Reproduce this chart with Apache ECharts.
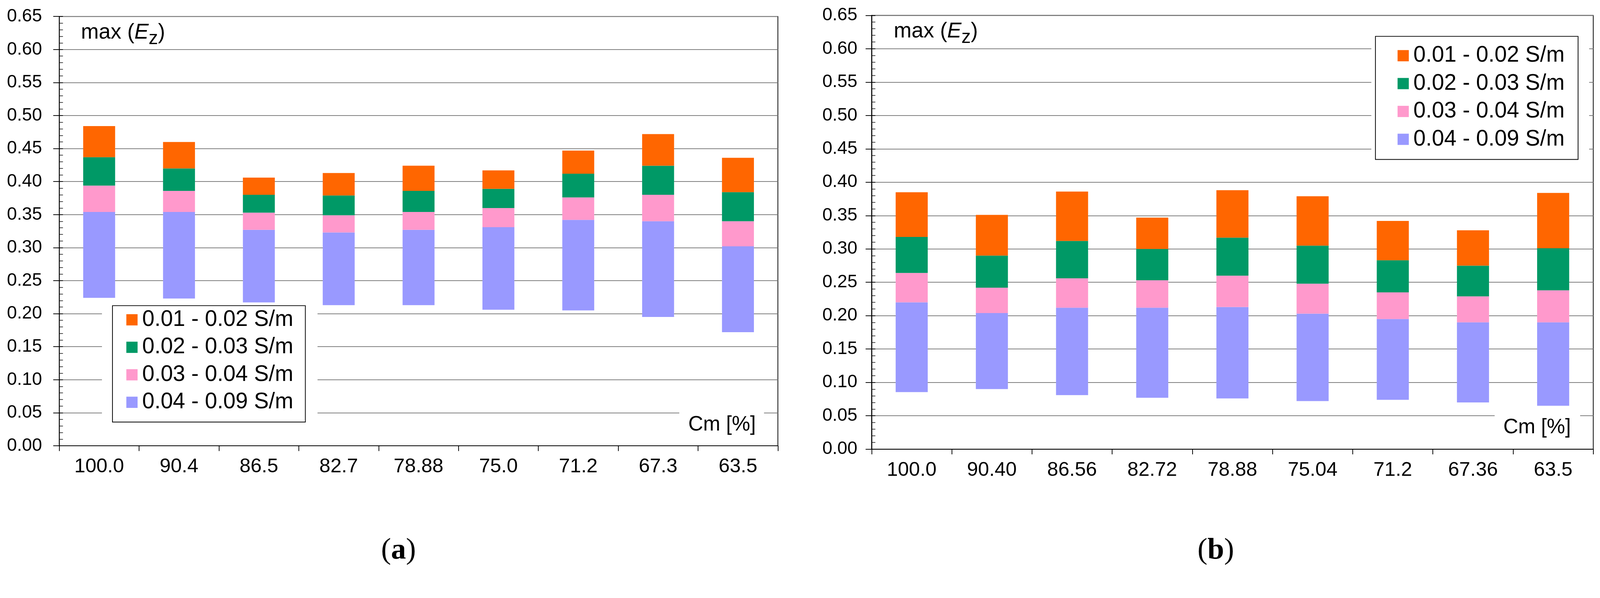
<!DOCTYPE html>
<html>
<head>
<meta charset="utf-8">
<script src="https://cdn.jsdelivr.net/npm/echarts@6/dist/echarts.min.js"></script>
<style>
html,body{margin:0;padding:0;background:#fff;overflow:hidden;}
#chart{width:100vw;height:100vh;}
</style>
</head>
<body>
<div id="chart"></div>
<script>
// ---------- data ----------
const categoriesA = ['100.0','90.4','86.5','82.7','78.88','75.0','71.2','67.3','63.5'];
const categoriesB = ['100.0','90.40','86.56','82.72','78.88','75.04','71.2','67.36','63.5'];
const seriesNames = ['0.01 - 0.02 S/m','0.02 - 0.03 S/m','0.03 - 0.04 S/m','0.04 - 0.09 S/m'];
const yTicks = [0,0.05,0.10,0.15,0.20,0.25,0.30,0.35,0.40,0.45,0.50,0.55,0.60,0.65];

// panel (a): boundaries of each bar
const aBottom    = [0.224,0.223,0.217,0.213,0.213,0.206,0.205,0.195,0.172];
const aTop0409   = [0.354,0.354,0.327,0.323,0.327,0.331,0.342,0.340,0.302];
const aTop0304   = [0.394,0.386,0.353,0.349,0.354,0.360,0.376,0.380,0.340];
const aTop0203   = [0.437,0.420,0.380,0.379,0.386,0.389,0.412,0.424,0.384];
const aTop0102   = [0.484,0.460,0.406,0.413,0.424,0.417,0.447,0.472,0.436];

// panel (b)
const bBottom    = [0.0855,0.090,0.081,0.077,0.076,0.072,0.074,0.070,0.065];
const bTop0409   = [0.220,0.204,0.212,0.212,0.213,0.203,0.195,0.190,0.190];
const bTop0304   = [0.264,0.242,0.256,0.253,0.260,0.248,0.235,0.229,0.238];
const bTop0203   = [0.318,0.290,0.312,0.300,0.317,0.305,0.283,0.275,0.301];
const bTop0102   = [0.385,0.351,0.386,0.347,0.388,0.379,0.342,0.328,0.384];

// ---------- styling ----------
const W = window.innerWidth || 4268, H = window.innerHeight || 1532;
const s = Math.min(W / 4268, H / 1532);
const S = v => v * s;
const FONT = '"Liberation Sans", Arial, sans-serif';
const SERIF = '"Liberation Serif", "Times New Roman", serif';
const colors = {'0.01 - 0.02 S/m':'#FF6600','0.02 - 0.03 S/m':'#009966','0.03 - 0.04 S/m':'#FF99CC','0.04 - 0.09 S/m':'#9999FF'};

const diff = (hi, lo) => hi.map((v,i) => +(v - lo[i]).toFixed(4));

function panelSeries(idx, bottom, t1, t2, t3, t4) {
  const stack = 'p' + idx;
  const common = {type:'bar', stack, xAxisIndex: idx, yAxisIndex: idx*2, barWidth:'40%', silent:true};
  return [
    Object.assign({}, common, {name:'base'+idx, data: bottom, itemStyle:{color:'rgba(0,0,0,0)'}}),
    Object.assign({}, common, {name:seriesNames[3], data: diff(t1,bottom), itemStyle:{color:colors[seriesNames[3]]}}),
    Object.assign({}, common, {name:seriesNames[2], data: diff(t2,t1), itemStyle:{color:colors[seriesNames[2]]}}),
    Object.assign({}, common, {name:seriesNames[1], data: diff(t3,t2), itemStyle:{color:colors[seriesNames[1]]}}),
    Object.assign({}, common, {name:seriesNames[0], data: diff(t4,t3), itemStyle:{color:colors[seriesNames[0]]}})
  ];
}

function xAxisFor(idx, cats) {
  return {
    type:'category', gridIndex: idx, data: cats, boundaryGap: true,
    axisLine:{show:true, lineStyle:{color:'#000', width:S(2)}},
    axisTick:{show:true, length:S(14), lineStyle:{color:'#000', width:S(2)}},
    axisLabel:{fontSize:S(53), color:'#000', fontFamily:FONT, margin:S(30), interval:0},
    splitLine:{show:false}
  };
}
function yAxesFor(idx, margin) {
  return [
    {
      type:'value', gridIndex: idx, min:0, max:0.65, interval:0.05, position:'left',
      axisLine:{show:true, lineStyle:{color:'#000', width:S(2)}},
      axisTick:{show:true, length:S(16), lineStyle:{color:'#000', width:S(2)}},
      axisLabel:{fontSize:S(48), color:'#000', fontFamily:FONT, margin:S(margin),
        formatter: v => { const t = yTicks.find(x => Math.abs(x - v) < 1e-6); return (t === undefined ? v : t).toFixed(2); }},
      splitLine:{show:true, lineStyle:{color:'#808080', width:S(2)}}
    },
    {
      type:'value', gridIndex: idx, min:0, max:0.65, interval:0.05, position:'left',
      axisLine:{show:true, lineStyle:{color:'#000', width:S(2)}},
      axisTick:{show:true, inside:true, length:S(10), lineStyle:{color:'#000', width:S(2)}},
      minorTick:{show:true, splitNumber:5, length:S(10), lineStyle:{color:'#000', width:S(1.5)}},
      axisLabel:{show:false},
      splitLine:{show:false}
    }
  ];
}

function measure(text, font) {
  const c = document.createElement('canvas').getContext('2d');
  c.font = font;
  return c.measureText(text).width;
}
// x, baseline, size given in reference pixels
function txt(text, x, baseline, size, fontStyle, family, align) {
  const k = family === SERIF ? 0.3375 : 0.3465;
  return {
    type:'text', z: 10,
    style:{text, x:S(x), y: S(baseline - k*size), fontSize:S(size), fontStyle: fontStyle || 'normal',
      fontFamily: family || FONT, fill:'#000', align: align || 'left', verticalAlign:'middle'}
  };
}
function ezLabel(x0, baseline) {
  const sz = 57, ss = 50;
  const w1 = measure('max (', sz + 'px ' + FONT);
  const w2 = measure('E', 'italic ' + sz + 'px ' + FONT);
  const w3 = measure('z', ss + 'px ' + FONT);
  return [
    txt('max (', x0, baseline, sz),
    txt('E', x0 + w1, baseline, sz, 'italic'),
    txt('z', x0 + w1 + w2, baseline + 14, ss),
    txt(')', x0 + w1 + w2 + w3, baseline, sz)
  ];
}
function caption(letter, cx, baseline) {
  const size = 80;
  return {
    type:'text', z: 10,
    style:{text:'({b|' + letter + '})', x: S(cx), y: S(baseline - 0.3375*size), fontSize:S(size), fontFamily:SERIF,
      fill:'#000', align:'center', verticalAlign:'middle',
      rich:{b:{fontWeight:'bold', fontSize:S(size), fontFamily:SERIF, fill:'#000'}}}
  };
}
function whiteRect(x, y, w, h) {
  return {type:'rect', z: 3, silent:true, shape:{x:S(x), y:S(y), width:S(w), height:S(h)}, style:{fill:'#fff'}};
}
function legendFor(left, top, padding, gap) {
  return {
    show:true, left:S(left), top:S(top), orient:'vertical', icon:'rect', itemWidth:S(30), itemHeight:S(30), itemGap:S(gap),
    padding: padding.map(S), borderColor:'#000', borderWidth:S(2), backgroundColor:'#fff', selectedMode:false,
    data: seriesNames,
    textStyle:{fontSize:S(59), lineHeight:S(59), color:'#000', fontFamily:FONT, padding:[0,0,0,S(7)]}
  };
}

const option = {
  animation:false,
  backgroundColor:'#fff',
  grid:[
    {left:S(158), top:S(44), width:S(1917), height:S(1146), show:true, borderColor:'#000', borderWidth:S(2), backgroundColor:'transparent'},
    {left:S(2325), top:S(41), width:S(1925), height:S(1158), show:true, borderColor:'#000', borderWidth:S(2), backgroundColor:'transparent'}
  ],
  xAxis:[xAxisFor(0, categoriesA), xAxisFor(1, categoriesB)],
  yAxis:[...yAxesFor(0, 46), ...yAxesFor(1, 38)],
  legend:[
    legendFor(300, 816, [8,32,23,37], 14),
    legendFor(3669, 97, [22,36,24,59], 15)
  ],
  series:[
    ...panelSeries(0, aBottom, aTop0409, aTop0304, aTop0203, aTop0102),
    ...panelSeries(1, bBottom, bTop0409, bTop0304, bTop0203, bTop0102)
  ],
  graphic:[
    whiteRect(272, 808, 575, 324),
    whiteRect(3658, 88, 581, 344),
    whiteRect(1812, 1088, 226, 94),
    whiteRect(3987, 1096, 228, 94),
    ...ezLabel(216, 107),
    ...ezLabel(2384, 104),
    txt('Cm [%]', 1836, 1153, 55),
    txt('Cm [%]', 4010, 1161, 55),
    caption('a', 1063, 1497),
    caption('b', 3243, 1497)
  ]
};

const chart = echarts.init(document.getElementById('chart'), null, {renderer:'canvas', width:W, height:H});
chart.setOption(option);
</script>
</body>
</html>
